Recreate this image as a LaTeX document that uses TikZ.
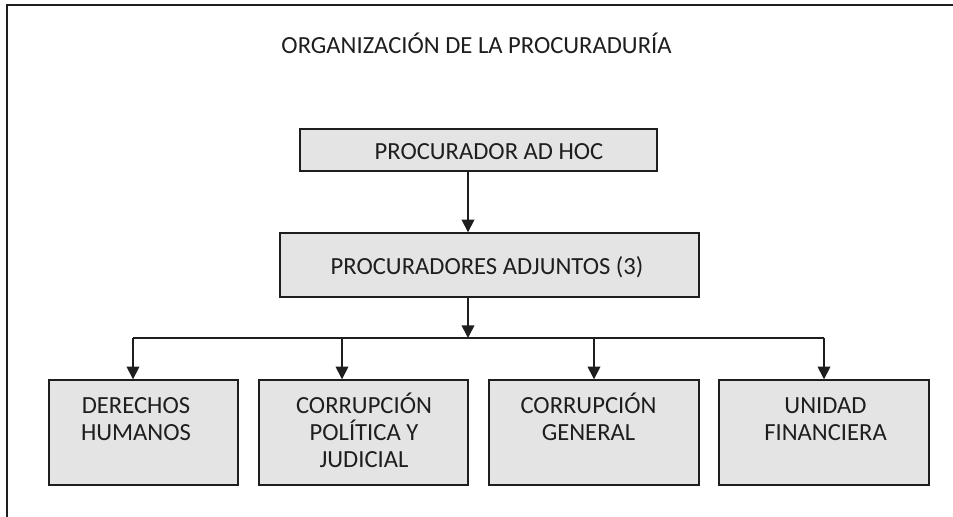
\documentclass[tikz,border=0pt]{standalone}
\usepackage{fontspec}
\setmainfont{Carlito}
\usepackage{tikz}
\usetikzlibrary{arrows.meta}
\pgfdeclarelayer{edgelayer}
\pgfdeclarelayer{nodelayer}
\pgfsetlayers{edgelayer,nodelayer,main}
\definecolor{boxgray}{RGB}{227,228,227}
\definecolor{inkgray}{RGB}{30,30,30}
\newcommand{\firstline}{\rule{0pt}{15pt}}
\tikzstyle{none}=[inner sep=0pt]
\tikzstyle{unitbox}=[draw=inkgray, line width=1pt, fill=boxgray, inner sep=0pt]
\tikzstyle{boxtext}=[inner sep=0pt, align=center, text=inkgray, font=\fontsize{17.5}{19.2}\selectfont]
\tikzstyle{link}=[line width=1.2pt, draw=inkgray]
\tikzstyle{linkarrow}=[link, -{Triangle[width=9pt,length=9pt]}]

\begin{document}
\begin{tikzpicture}[x=0.025cm, y=-0.025cm]
	\useasboundingbox (0, 0) rectangle (953, 517);
	\begin{pgfonlayer}{nodelayer}
		\node [style=boxtext] (title) at (476.5, 43) {ORGANIZACIÓN DE LA PROCURADURÍA};
		\node [style=unitbox, minimum width=8.925cm, minimum height=1.05cm] (0) at (478.5, 150) {};
		\node [style=boxtext] (t0) at (489, 152) {PROCURADOR AD HOC};
		\node [style=unitbox, minimum width=10.475cm, minimum height=1.6cm] (1) at (489.5, 265) {};
		\node [style=boxtext] (t1) at (487, 267) {PROCURADORES ADJUNTOS (3)};
		\node [style=unitbox, minimum width=4.725cm, minimum height=2.625cm] (2) at (143.5, 432.5) {};
		\node [style=unitbox, minimum width=5.225cm, minimum height=2.625cm] (3) at (363.5, 432.5) {};
		\node [style=unitbox, minimum width=5.25cm, minimum height=2.625cm] (4) at (594, 432.5) {};
		\node [style=unitbox, minimum width=5.25cm, minimum height=2.625cm] (5) at (824, 432.5) {};
		\node [style=boxtext, anchor=north] (t2) at (136, 392) {\firstline DERECHOS\\HUMANOS};
		\node [style=boxtext, anchor=north] (t3) at (364, 392) {\firstline CORRUPCIÓN\\POLÍTICA Y\\JUDICIAL};
		\node [style=boxtext, anchor=north] (t4) at (588.5, 392) {\firstline CORRUPCIÓN\\GENERAL};
		\node [style=boxtext, anchor=north] (t5) at (825.5, 392) {\firstline UNIDAD\\FINANCIERA};
		\coordinate (6) at (468, 338);
		\coordinate (7) at (133, 338);
		\coordinate (8) at (342, 338);
		\coordinate (9) at (594, 338);
		\coordinate (10) at (824, 338);
	\end{pgfonlayer}
	\begin{pgfonlayer}{edgelayer}
		\draw [line width=1.3pt, draw=inkgray] (7, 517) -- (7, 5) -- (953, 5);
		\draw [style=linkarrow] (0.south -| 6) to (1.north -| 6);
		\draw [style=linkarrow] (1.south -| 6) to (6);
		\draw [style=link] (7) to (10);
		\draw [style=linkarrow] (7) to (2.north -| 7);
		\draw [style=linkarrow] (8) to (3.north -| 8);
		\draw [style=linkarrow] (9) to (4.north -| 9);
		\draw [style=linkarrow] (10) to (5.north -| 10);
	\end{pgfonlayer}
\end{tikzpicture}
\end{document}
